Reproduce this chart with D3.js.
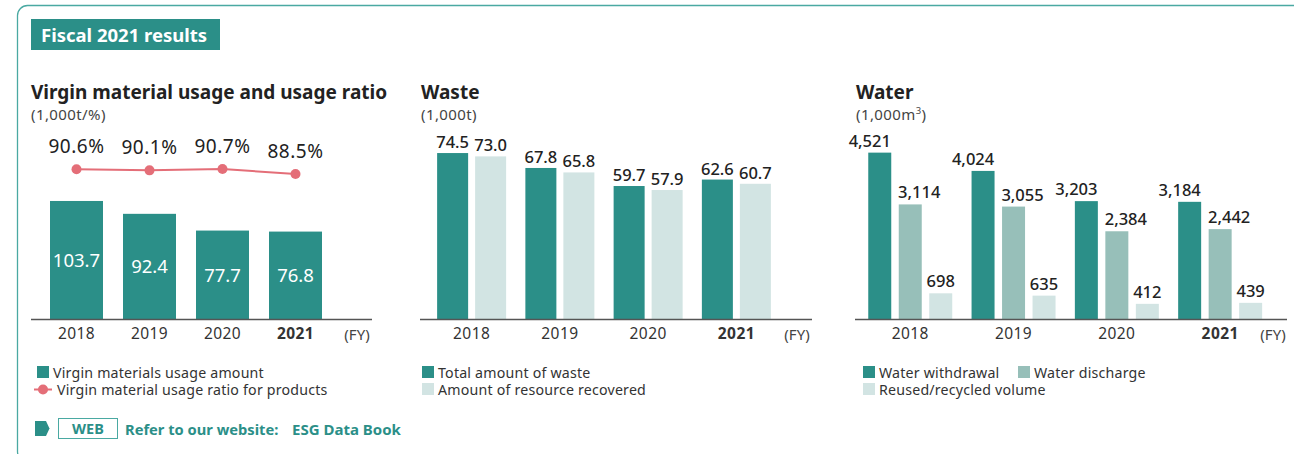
<!DOCTYPE html>
<html>
<head>
<meta charset="utf-8">
<script src="https://cdn.jsdelivr.net/npm/d3@7"></script>
<style>
  html, body { margin: 0; padding: 0; background: #fff; }
  svg { display: block; font-family: "Noto Sans", "Open Sans", sans-serif; }
</style>
</head>
<body>
<svg id="chart" width="1294" height="454"></svg>
<script>
// ---- data ----
const years = ["2018", "2019", "2020", "2021"];

const virginUsage = [103.7, 92.4, 77.7, 76.8];        // 1,000t
const virginRatio = [90.6, 90.1, 90.7, 88.5];         // %

const wasteSeries = ["Total amount of waste", "Amount of resource recovered"];
const wasteTotal = [74.5, 67.8, 59.7, 62.6];          // 1,000t
const wasteRecovered = [73.0, 65.8, 57.9, 60.7];      // 1,000t

const waterSeries = ["Water withdrawal", "Water discharge", "Reused/recycled volume"];
const waterWithdrawal = [4521, 4024, 3203, 3184];     // 1,000m3
const waterDischarge = [3114, 3055, 2384, 2442];
const waterReused = [698, 635, 412, 439];

// ---- styles ----
const C_DARK = "#2b8f88";
const C_MID = "#97bfb9";
const C_LIGHT = "#d2e4e3";
const C_PINK = "#e46e78";
const C_FRAME = "#4aa9a2";
const C_TEXT = "#222";
const C_SUB = "#444";
const BASE = 319;

const svg = d3.select("#chart");

// outer frame (left + top visible, rounded corners)
svg.append("rect")
  .attr("x", 17.5).attr("y", 5.5)
  .attr("width", 1400).attr("height", 456)
  .attr("rx", 10)
  .attr("fill", "none").attr("stroke", C_FRAME).attr("stroke-width", 1.3);

// header badge
svg.append("rect").attr("x", 31).attr("y", 19).attr("width", 189).attr("height", 31).attr("fill", C_DARK);
svg.append("text").attr("x", 41).attr("y", 41.5)
  .attr("fill", "#fff").attr("font-size", 18.5).attr("font-weight", 700)
  .text("Fiscal 2021 results");

function panelTitle(x, title, unit) {
  svg.append("text").attr("x", x).attr("y", 99)
    .attr("fill", C_TEXT).attr("font-size", 19).attr("font-weight", 700)
    .text(title);
  return svg.append("text").attr("x", x).attr("y", 120)
    .attr("fill", C_SUB).attr("font-size", 15).attr("letter-spacing", 0.4)
    .text(unit);
}

function yearAxis(xScale, lineX0, lineX1, fyX) {
  svg.append("line")
    .attr("x1", lineX0).attr("x2", lineX1)
    .attr("y1", BASE + 0.5).attr("y2", BASE + 0.5)
    .attr("stroke", "#555").attr("stroke-width", 1.6);
  const g = svg.append("g").attr("transform", `translate(0,${BASE + 6})`)
    .call(d3.axisBottom(xScale).tickSize(0).tickPadding(0));
  g.select(".domain").remove();
  g.selectAll("text")
    .attr("font-size", 15.5).attr("fill", "#333")
    .attr("font-family", "\"Noto Sans\", sans-serif")
    .attr("letter-spacing", 0.4)
    .attr("dy", "0.9em")
    .attr("font-weight", d => d === "2021" ? 700 : 400);
  svg.append("text").attr("x", fyX).attr("y", 340)
    .attr("text-anchor", "middle").attr("font-size", 15).attr("fill", "#444")
    .text("(FY)");
}

function legendSwatch(x, y, color, label) {
  svg.append("rect").attr("x", x).attr("y", y).attr("width", 12).attr("height", 12).attr("fill", color);
  svg.append("text").attr("x", x + 16).attr("y", y + 11.5)
    .attr("font-size", 14.2).attr("letter-spacing", 0.2).attr("fill", "#333").text(label);
}

// ================= Panel 1: virgin material =================
panelTitle(31, "Virgin material usage and usage ratio", "(1,000t/%)");

const x1 = d3.scaleBand().domain(years).range([40, 332]).paddingInner(0.274).paddingOuter(0.137);
const y1 = d3.scaleLinear().domain([0, 110]).range([BASE, BASE - 125.2]);
const yRatio = d3.scaleLinear().domain([80, 100]).range([193.3, 147.9]);

svg.append("g").selectAll("rect").data(virginUsage).join("rect")
  .attr("x", (d, i) => x1(years[i]))
  .attr("y", d => y1(d))
  .attr("width", x1.bandwidth())
  .attr("height", d => BASE - y1(d))
  .attr("fill", C_DARK);

svg.append("g").selectAll("text").data(virginUsage).join("text")
  .attr("x", (d, i) => x1(years[i]) + x1.bandwidth() / 2)
  .attr("y", d => (y1(d) + BASE) / 2 + 7)
  .attr("text-anchor", "middle").attr("fill", "#fff").attr("font-size", 18.5)
  .text(d => d.toFixed(1));

const cx = (d, i) => x1(years[i]) + x1.bandwidth() / 2;
svg.append("path")
  .datum(virginRatio)
  .attr("fill", "none").attr("stroke", C_PINK).attr("stroke-width", 2)
  .attr("d", d3.line().x(cx).y(d => yRatio(d)));
svg.append("g").selectAll("circle").data(virginRatio).join("circle")
  .attr("cx", cx).attr("cy", d => yRatio(d)).attr("r", 5).attr("fill", C_PINK);
svg.append("g").selectAll("text").data(virginRatio).join("text")
  .attr("x", cx).attr("y", d => yRatio(d) - 16)
  .attr("text-anchor", "middle").attr("fill", C_TEXT).attr("font-size", 19)
  .attr("letter-spacing", 0.5)
  .text(d => d.toFixed(1) + "%");

yearAxis(x1, 31, 372, 357);

legendSwatch(37, 366, C_DARK, "Virgin materials usage amount");
svg.append("line").attr("x1", 34).attr("x2", 52).attr("y1", 389.5).attr("y2", 389.5)
  .attr("stroke", C_PINK).attr("stroke-width", 2);
svg.append("circle").attr("cx", 43).attr("cy", 389.5).attr("r", 5).attr("fill", C_PINK);
svg.append("text").attr("x", 57).attr("y", 395).attr("font-size", 14.2).attr("letter-spacing", 0.2).attr("fill", "#333")
  .text("Virgin material usage ratio for products");

// WEB link row
svg.append("path").attr("d", "M35,421 L46,421 L49.5,428.5 L46,436 L35,436 Z").attr("fill", C_DARK);
svg.append("rect").attr("x", 58.5).attr("y", 418.5).attr("width", 59).attr("height", 20)
  .attr("fill", "#fff").attr("stroke", C_FRAME).attr("stroke-width", 1);
svg.append("text").attr("x", 88).attr("y", 434).attr("text-anchor", "middle")
  .attr("fill", C_DARK).attr("font-size", 14.5).attr("font-weight", 700).text("WEB");
svg.append("text").attr("x", 125).attr("y", 435)
  .attr("fill", C_DARK).attr("font-size", 14.7).attr("font-weight", 700)
  .text("Refer to our website:");
svg.append("text").attr("x", 292).attr("y", 435)
  .attr("fill", C_DARK).attr("font-size", 15).attr("font-weight", 700)
  .text("ESG Data Book");

// ================= Panel 2: waste =================
panelTitle(421, "Waste", "(1,000t)");

const x2 = d3.scaleBand().domain(years).range([427.5, 780.5]).paddingInner(0.218).paddingOuter(0.109);
const x2s = d3.scaleBand().domain(wasteSeries).range([0, x2.bandwidth()]).paddingInner(0.184);
const y2 = d3.scaleLinear().domain([0, 80]).range([BASE, BASE - 178.2]);
const wasteColors = [C_DARK, C_LIGHT];
const wasteRows = years.map((yr, i) => ({ yr, vals: [wasteTotal[i], wasteRecovered[i]] }));

const wg = svg.append("g").selectAll("g").data(wasteRows).join("g")
  .attr("transform", d => `translate(${x2(d.yr)},0)`);
wg.selectAll("rect").data(d => d.vals.map((v, j) => ({ v, s: wasteSeries[j], j }))).join("rect")
  .attr("x", d => x2s(d.s)).attr("y", d => y2(d.v))
  .attr("width", x2s.bandwidth()).attr("height", d => BASE - y2(d.v))
  .attr("fill", d => wasteColors[d.j]);
wg.selectAll("text").data(d => d.vals.map((v, j) => ({ v, s: wasteSeries[j], j }))).join("text")
  .attr("x", d => x2s(d.s) + x2s.bandwidth() / 2).attr("y", d => y2(d.v) - 5)
  .attr("text-anchor", "middle").attr("fill", C_TEXT).attr("font-size", 16.5).attr("font-weight", 500)
  .text(d => d.v.toFixed(1));

yearAxis(x2, 420, 812, 797);

legendSwatch(422, 366, C_DARK, wasteSeries[0]);
legendSwatch(422, 383, C_LIGHT, wasteSeries[1]);

// ================= Panel 3: water =================
const unit3 = panelTitle(856, "Water", "(1,000m");
unit3.append("tspan").attr("font-size", 9.5).attr("dy", -6).text("3");
unit3.append("tspan").attr("dy", 6).text(")");

const x3 = d3.scaleBand().domain(years).range([858.6, 1271.8]).paddingInner(0.187).paddingOuter(0.0935);
const x3s = d3.scaleBand().domain(waterSeries).range([0, x3.bandwidth()]).paddingInner(0.246);
const y3 = d3.scaleLinear().domain([0, 5000]).range([BASE, BASE - 184]);
const waterColors = [C_DARK, C_MID, C_LIGHT];
const labelShift = [-10, 9, 0];
const waterRows = years.map((yr, i) => ({ yr, vals: [waterWithdrawal[i], waterDischarge[i], waterReused[i]] }));

const hg = svg.append("g").selectAll("g").data(waterRows).join("g")
  .attr("transform", d => `translate(${x3(d.yr)},0)`);
hg.selectAll("rect").data(d => d.vals.map((v, j) => ({ v, s: waterSeries[j], j }))).join("rect")
  .attr("x", d => x3s(d.s)).attr("y", d => y3(d.v))
  .attr("width", x3s.bandwidth()).attr("height", d => BASE - y3(d.v))
  .attr("fill", d => waterColors[d.j]);
hg.selectAll("text").data(d => d.vals.map((v, j) => ({ v, s: waterSeries[j], j }))).join("text")
  .attr("x", d => x3s(d.s) + x3s.bandwidth() / 2 + labelShift[d.j]).attr("y", d => y3(d.v) - 6)
  .attr("text-anchor", "middle").attr("fill", C_TEXT).attr("font-size", 16.5).attr("font-weight", 500)
  .text(d => d3.format(",")(d.v));

yearAxis(x3, 855, 1287, 1273);

legendSwatch(863, 366, C_DARK, waterSeries[0]);
legendSwatch(1018, 366, C_MID, waterSeries[1]);
legendSwatch(863, 383, C_LIGHT, waterSeries[2]);
</script>
</body>
</html>
